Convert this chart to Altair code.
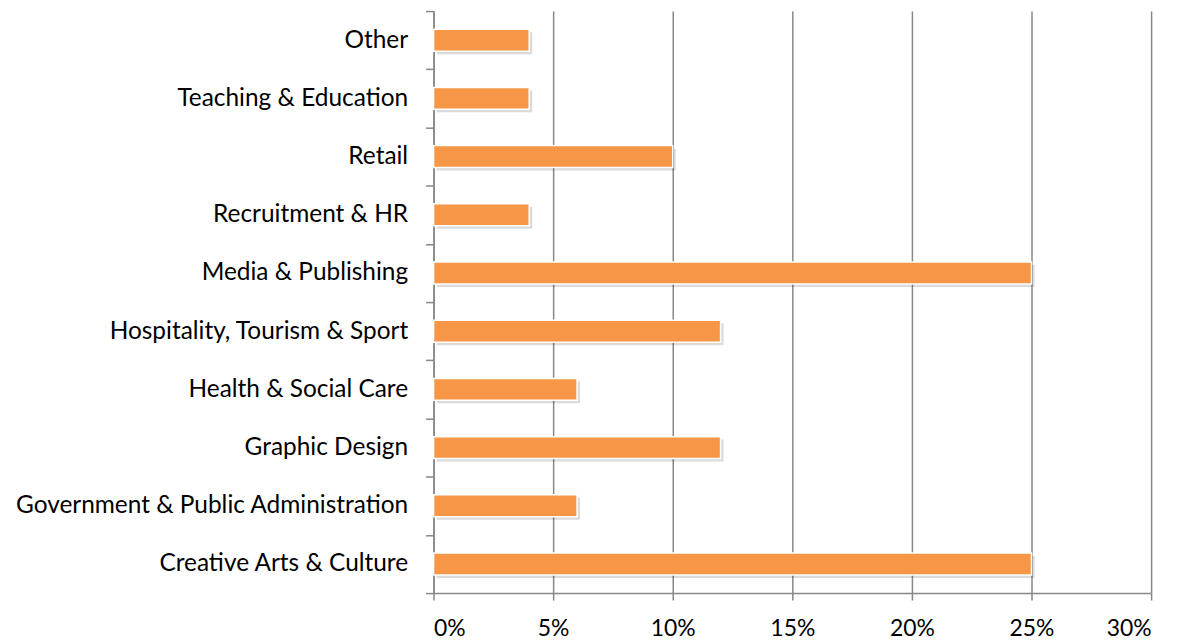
import altair as alt
import pandas as pd

categories = [
    "Other",
    "Teaching & Education",
    "Retail",
    "Recruitment & HR",
    "Media & Publishing",
    "Hospitality, Tourism & Sport",
    "Health & Social Care",
    "Graphic Design",
    "Government & Public Administration",
    "Creative Arts & Culture",
]
values = [0.04, 0.04, 0.10, 0.04, 0.25, 0.12, 0.06, 0.12, 0.06, 0.25]
x_ticks = [0, 0.05, 0.10, 0.15, 0.20, 0.25, 0.30]

df = pd.DataFrame({"category": categories, "value": values})

FONT = "Lato"
GRID = "#878787"

y_enc = alt.Y(
    "category:N",
    sort=categories,
    scale=alt.Scale(paddingInner=0, paddingOuter=0),
    axis=alt.Axis(
        title=None,
        labelFont=FONT,
        labelFontSize=24.5,
        labelColor="#000000",
        labelPadding=18,
        labelLimit=0,
        tickBand="extent",
        tickSize=8,
        tickColor=GRID,
        tickWidth=1.5,
        domainColor=GRID,
        domainWidth=1.5,
        grid=False,
    ),
)
x_enc = alt.X(
    "value:Q",
    scale=alt.Scale(domain=[0, 0.30], nice=False),
    axis=alt.Axis(
        title=None,
        values=x_ticks,
        format=".0%",
        labelFont=FONT,
        labelFontSize=23,
        labelColor="#000000",
        labelPadding=18,
        tickSize=7,
        tickColor=GRID,
        tickWidth=1.5,
        domainColor=GRID,
        domainWidth=1.5,
        grid=True,
        gridColor=GRID,
        gridWidth=1.5,
    ),
)

shadow = alt.Chart(df).mark_bar(
    color="#000000", opacity=0.14, height=22, xOffset=3, yOffset=3
).encode(x=x_enc, y=y_enc)

bars = alt.Chart(df).mark_bar(
    color="#F79646", stroke="#FFFFFF", strokeWidth=1.5, height=22
).encode(x=x_enc, y=y_enc)

chart = (
    alt.layer(shadow, bars)
    .properties(
        width=720,
        height=584,
        autosize=alt.AutoSizeParams(type="none"),
        padding={"left": 427, "top": 2, "right": 30, "bottom": 55},
    )
    .configure_view(stroke=None)
)

chart.save("out.html", embed_options={"renderer": "svg", "actions": False})
